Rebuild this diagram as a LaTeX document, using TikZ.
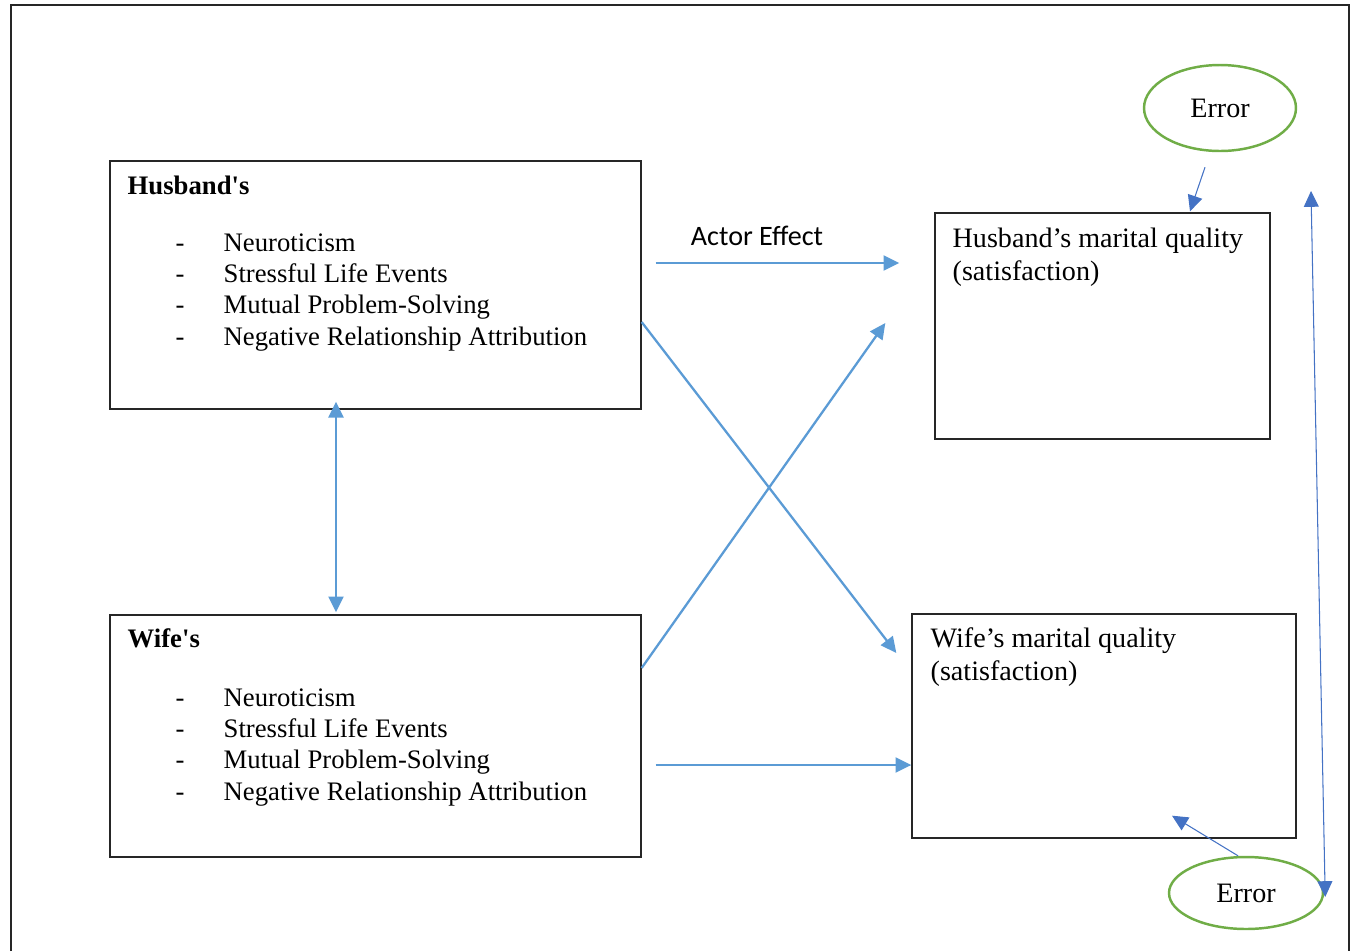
\documentclass[tikz,border=0pt]{standalone}
\usepackage{fontspec}
\setmainfont{Liberation Serif}[Ligatures=TeXOff]
\newfontfamily\calibri{Carlito}
\usetikzlibrary{positioning,shapes.geometric,arrows.meta}
\definecolor{pathblue}{RGB}{91,155,213}
\definecolor{errblue}{RGB}{68,114,196}
\definecolor{errgreen}{RGB}{112,173,71}

\newcommand{\traitlist}{\begin{tabular}[t]{@{}p{0.96cm}@{}l@{}}
-&Neuroticism\\
-&Stressful Life Events\\
-&Mutual Problem-Solving\\
-&Negative Relationship Attribution
\end{tabular}}

\tikzset{
  headtip/.tip={Triangle[length=9pt,width=8.5pt]},
  box/.style={draw=black!85,line width=0.8pt,rectangle,inner sep=0},
  errnode/.style={draw=errgreen,line width=1.4pt,ellipse,inner sep=0,font=\fontsize{16}{19}\selectfont},
  path/.style={draw=pathblue,line width=1.3pt,-headtip},
  errpath/.style={draw=errblue,line width=0.6pt,-headtip},
  txt/.style={inner sep=0,anchor=base west},
  qtxt/.style={txt,font=\fontsize{16}{19}\selectfont}
}

\begin{document}
\begin{tikzpicture}[x=0.02cm,y=-0.02cm,font=\fontsize{15.2}{17.8}\selectfont]
        \useasboundingbox (0,0) rectangle (1356,951);
        \draw[black!85,line width=0.9pt] (11,951) -- (11,5) -- (1349,5) -- (1349,951);

        \node[box,minimum width=10.62cm,minimum height=4.96cm] (hus) at (375.5,285) {};
        \node[box,minimum width=10.62cm,minimum height=4.84cm] (wif) at (375.5,736) {};
        \node[box,minimum width=6.7cm,minimum height=4.52cm] (hmq) at (1102.5,326) {};
        \node[box,minimum width=7.68cm,minimum height=4.48cm] (wmq) at (1104,726) {};
        \node[errnode,minimum width=3.04cm,minimum height=1.72cm] (err1) at (1220,108) {Error};
        \node[errnode,minimum width=3.08cm,minimum height=1.44cm] (err2) at (1246,893) {Error};

        \node[txt] (husT) at ([shift={(18,34)}]hus.north west) {\textbf{Husband's}};
        \node[txt] (husL) at ([shift={(66,91)}]hus.north west) {\traitlist};
        \node[txt] (wifT) at ([shift={(18,33)}]wif.north west) {\textbf{Wife's}};
        \node[txt] (wifL) at ([shift={(66,92)}]wif.north west) {\traitlist};
        \node[qtxt] (hmqT) at ([shift={(18,35)}]hmq.north west)
            {\begin{tabular}[t]{@{}l@{}}Husband’s marital quality\\(satisfaction)\end{tabular}};
        \node[qtxt] (wmqT) at ([shift={(19,34)}]wmq.north west)
            {\begin{tabular}[t]{@{}l@{}}Wife’s marital quality\\(satisfaction)\end{tabular}};

        \node[inner sep=0,anchor=base,font=\calibri\fontsize{16}{19}\selectfont] (actor) at (757,245) {Actor Effect};

        \draw[path] ([shift={(14,-22)}]hus.east) -- ([shift={(-35,-63)}]hmq.west);
        \draw[path] ([shift={(14,29)}]wif.east) -- ([shift={(0,39)}]wmq.west);
        \draw[path] ([shift={(0,37)}]hus.east) -- ([shift={(-15,-73)}]wmq.west);
        \draw[path] ([shift={(0,-68)}]wif.east) -- ([shift={(-49,-3)}]hmq.west);
        \draw[path,headtip-headtip]
            ([shift={(-39.5,-8)}]hus.south) -- ([shift={(-39.5,-2)}]wif.north);

        \draw[errpath] ([shift={(-15,15)}]err1.south) -- ([shift={(87.5,-1)}]hmq.north);
        \draw[errpath] ([shift={(-8,0)}]err2.north) -- ([shift={(68,-23)}]wmq.south);
        \coordinate (corr) at (1311,191);
        \draw[errpath,headtip-headtip] (corr) -- ([shift={(1,4)}]err2.east);
    \end{tikzpicture}
\end{document}
